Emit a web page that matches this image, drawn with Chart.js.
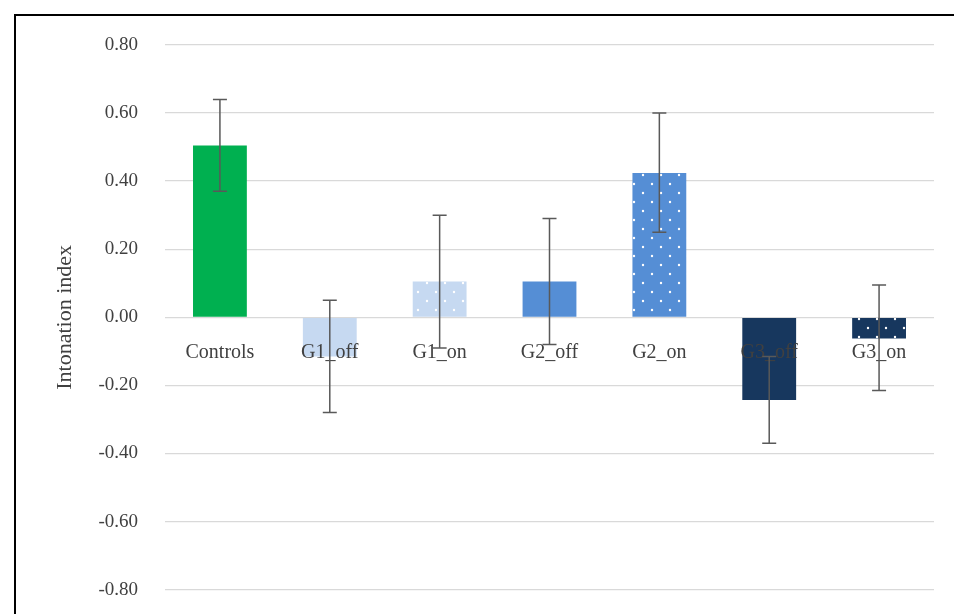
<!DOCTYPE html>
<html><head><meta charset="utf-8">
<script src="https://cdn.jsdelivr.net/npm/chart.js@4"></script>
<style>
html,body{margin:0;padding:0;background:#fff;overflow:hidden;}
#wrap{position:absolute;left:0;top:0;width:954px;height:614px;overflow:hidden;}
#frame{position:absolute;left:14px;top:14px;width:950px;height:620px;border:2px solid #000;box-sizing:border-box;pointer-events:none;}
</style></head>
<body>
<div id="wrap"><canvas id="c" width="954" height="628"></canvas></div>
<div id="frame"></div>
<script>
const categories = ["Controls","G1_off","G1_on","G2_off","G2_on","G3_off","G3_on"];
const values = [0.505, -0.115, 0.105, 0.105, 0.424, -0.243, -0.062];
const errHigh = [0.64, 0.05, 0.30, 0.29, 0.60, -0.115, 0.095];
const errLow = [0.37, -0.28, -0.09, -0.08, 0.25, -0.37, -0.215];
const yTicks = [-0.8,-0.6,-0.4,-0.2,0,0.2,0.4,0.6,0.8];

function dots(bg){
  const p=document.createElement('canvas');p.width=18;p.height=18;
  const x=p.getContext('2d');x.fillStyle=bg;x.fillRect(0,0,18,18);
  x.fillStyle='#fff';
  x.beginPath();x.arc(4,4,1.2,0,7);x.fill();
  x.beginPath();x.arc(13,13,1.2,0,7);x.fill();
  return x.createPattern(p,'repeat');
}
const ctx=document.getElementById('c').getContext('2d');
const colors=['#00b050','#c6d9f1',dots('#c6d9f1'),'#558ed5',dots('#558ed5'),'#17375e',dots('#17375e')];
const font="'Liberation Serif','DejaVu Serif',serif";

const overlay={id:'overlay',afterDatasetsDraw(chart){
  const c=chart.ctx,x=chart.scales.x,y=chart.scales.y;
  c.save();
  c.font="20px "+font;c.fillStyle='#404040';c.textAlign='center';c.textBaseline='middle';
  categories.forEach((l,i)=>c.fillText(l,x.getPixelForValue(i),y.getPixelForValue(0)+35));
  c.strokeStyle='#595959';c.lineWidth=1.5;
  categories.forEach((l,i)=>{
    const px=x.getPixelForValue(i),h=y.getPixelForValue(errHigh[i]),lo=y.getPixelForValue(errLow[i]);
    c.beginPath();c.moveTo(px,h);c.lineTo(px,lo);
    c.moveTo(px-7,h);c.lineTo(px+7,h);c.moveTo(px-7,lo);c.lineTo(px+7,lo);c.stroke();
  });
  c.translate(65,(chart.chartArea.top+chart.chartArea.bottom)/2);c.rotate(-Math.PI/2);
  c.font="22px "+font;c.fillText('Intonation index',0,0);
  c.restore();
}};

new Chart(ctx,{type:'bar',
 data:{labels:categories,datasets:[{data:values,backgroundColor:colors,barPercentage:0.49,categoryPercentage:1}]},
 options:{responsive:false,animation:false,
  layout:{padding:{top:45,bottom:8,right:20,left:0}},
  plugins:{legend:{display:false},tooltip:{enabled:false}},
  scales:{
   x:{display:false},
   y:{min:-0.8,max:0.8,
      afterBuildTicks(s){s.ticks=yTicks.map(v=>({value:v}));},
      afterFit(s){s.width=165;},
      grid:{color:'#d9d9d9',lineWidth:1.3,drawTicks:false},border:{display:false},
      ticks:{padding:27,color:'#404040',font:{family:font,size:19},callback:v=>v.toFixed(2)}
   }}},
 plugins:[overlay]});
</script></body></html>
